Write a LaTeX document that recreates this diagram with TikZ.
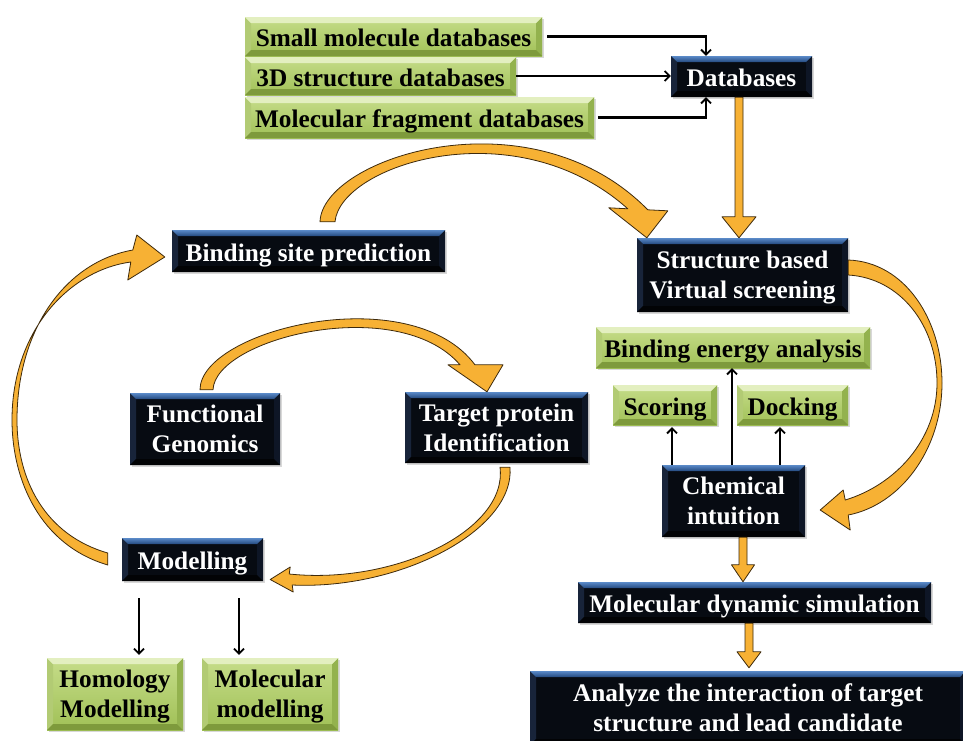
\documentclass[tikz,border=0pt]{standalone}
\usepackage{fontspec}
\setmainfont{Liberation Serif}
\usetikzlibrary{calc,arrows.meta,shadows}
\definecolor{orf}{HTML}{F7B134}
\definecolor{ord}{HTML}{3E2A0C}
\definecolor{gtop}{HTML}{C6DD8A}
\definecolor{gbot}{HTML}{A0C056}
\definecolor{gbvt}{HTML}{E3EFC0}
\definecolor{gbvl}{HTML}{B2CB74}
\definecolor{gbvr}{HTML}{93B24E}
\definecolor{gbvb}{HTML}{7E9A3C}
\definecolor{kface}{HTML}{070B12}
\definecolor{kb1}{HTML}{5A8AC8}
\definecolor{kb2}{HTML}{24497F}
\definecolor{kbl}{HTML}{18243A}
\definecolor{kbr}{HTML}{0E1626}
\definecolor{kbb}{HTML}{020305}
% single line: drop descender depth, lower a little
\newcommand\lo[1]{\raisebox{-1.5pt}[\height][0pt]{#1}}
% last line of a multi-line text: drop descender depth
\newcommand\ld[1]{\raisebox{0pt}[\height][0pt]{#1}}
\newcommand\bevelfill[4]{%
 \path (path picture bounding box.north west) coordinate (ppa)
       (path picture bounding box.north east) coordinate (ppb)
       (path picture bounding box.south east) coordinate (ppc)
       (path picture bounding box.south west) coordinate (ppd);
 \fill[#2] (ppa) -- ($(ppa)+(6,-6)$) -- ($(ppd)+(6,6)$) -- (ppd) -- cycle;
 \fill[#3] (ppb) -- ($(ppb)+(-6,-6)$) -- ($(ppc)+(-6,6)$) -- (ppc) -- cycle;
 \fill[#4] (ppd) -- ($(ppd)+(6,6)$) -- ($(ppc)+(-6,6)$) -- (ppc) -- cycle;
 \fill[#1] (ppa) -- (ppb) -- ($(ppb)+(-6,-6)$) -- ($(ppa)+(6,-6)$) -- cycle;}
\newcommand\odown[5]{%
 \filldraw[oarr] ($(#1)+(-#3/2,0)$) -- ($(#2)+(-#3/2,#5)$) -- ($(#2)+(-#4/2,#5)$) -- (#2)
   -- ($(#2)+(#4/2,#5)$) -- ($(#2)+(#3/2,#5)$) -- ($(#1)+(#3/2,0)$) -- cycle;}
\tikzset{
 boxbase/.style={inner sep=0pt, align=center, font=\fontsize{25.3}{30}\selectfont\bfseries,
   drop shadow={shadow xshift=1.5pt, shadow yshift=-1.5pt, opacity=0.3}},
 gbox/.style={boxbase, text=black, top color=gtop, bottom color=gbot,
   path picture={\bevelfill{gbvt}{gbvl}{gbvr}{gbvb}}},
 kbox/.style={boxbase, text=white, fill=kface,
   path picture={\bevelfill{top color=kb1,bottom color=kb2}{kbl}{kbr}{kbb}}},
 oarr/.style={fill=orf, draw=ord, line width=0.8pt, line join=round},
 blk/.style={draw=black, line width=2.2pt, -{Straight Barb[length=5pt,width=10pt,line width=1.8pt]}},
}
\begin{document}
\begin{tikzpicture}[x=1pt,y=1pt]
\fill[white] (0,0) rectangle (963,-740);
\useasboundingbox (0,0) rectangle (963,-740);

% green boxes
\node[gbox, minimum width=297pt, minimum height=39pt] (sm) at (393.5,-36.5) {\lo{Small molecule databases}};
\node[gbox, minimum width=271pt, minimum height=38pt] (sd) at (380.5,-76) {\lo{3D structure databases}};
\node[gbox, minimum width=349pt, minimum height=41pt] (mf) at (419.5,-117.5) {\lo{Molecular fragment databases}};
\node[gbox, minimum width=274pt, minimum height=41pt] (bea) at (733,-347.5) {\lo{Binding energy analysis}};
\node[gbox, minimum width=104pt, minimum height=40pt] (sc) at (665,-405) {\lo{Scoring}};
\node[gbox, minimum width=111pt, minimum height=40pt] (dk) at (792.5,-405) {\lo{Docking}};
\node[gbox, minimum width=136pt, minimum height=72pt] (hm) at (115,-694) {Homology\\\ld{Modelling}};
\node[gbox, minimum width=136pt, minimum height=72pt] (mm) at (270,-694) {Molecular\\\ld{modelling}};

% black boxes
\node[kbox, minimum width=141pt, minimum height=41pt] (db) at (741.5,-76.5) {\lo{Databases}};
\node[kbox, minimum width=211pt, minimum height=74pt] (sbvs) at (742.5,-275) {Structure based\\\ld{Virtual screening}};
\node[kbox, minimum width=273pt, minimum height=42pt] (bsp) at (308.5,-251) {\lo{Binding site prediction}};
\node[kbox, minimum width=143pt, minimum height=72pt] (ci) at (733.5,-501) {Chemical\\\ld{intuition}};
\node[kbox, minimum width=353pt, minimum height=41pt] (mds) at (754.5,-602.5) {\lo{Molecular dynamic simulation}};
\node[kbox, minimum width=436pt, minimum height=74pt] (an) at (748,-708) {Analyze the interaction of target\\\ld{structure and lead candidate}};
\node[kbox, minimum width=150pt, minimum height=72pt] (fg) at (205,-429) {Functional\\\ld{Genomics}};
\node[kbox, minimum width=183pt, minimum height=71pt] (tp) at (496.5,-427.5) {Target protein\\\ld{Identification}};
\node[kbox, minimum width=141pt, minimum height=43pt] (mod) at (192.5,-559.5) {\lo{Modelling}};

% black connectors
\draw[blk, shorten <=5pt] (sm.east) -| ([xshift=-35.5pt]db.north);
\draw[blk] (sd.east) -- (sd.east -| db.west);
\draw[blk, shorten <=4pt] (mf.east) -| ([xshift=-35.5pt]db.south);
\coordinate (c1) at ([xshift=-61.5pt]ci.north);
\coordinate (c2) at ([xshift=-1.5pt]ci.north);
\coordinate (c3) at ([xshift=46.5pt]ci.north);
\draw[blk, shorten >=2pt] (c1) -- (c1 |- sc.south);
\draw[blk] (c2) -- (c2 |- bea.south);
\draw[blk, shorten >=2pt] (c3) -- (c3 |- dk.south);
\coordinate (m1) at ([xshift=-53.5pt,yshift=-17pt]mod.south);
\coordinate (m2) at ([xshift=46.5pt,yshift=-17pt]mod.south);
\draw[blk, shorten >=3pt] (m1) -- (m1 |- hm.north);
\draw[blk, shorten >=3pt] (m2) -- (m2 |- mm.north);

% straight orange arrows
\coordinate (o1s) at ([xshift=-2.5pt]db.south);
\coordinate (o1e) at (o1s |- sbvs.north);
\odown{o1s}{o1e}{8}{34}{21}
\coordinate (o2s) at ([xshift=9.5pt]ci.south);
\coordinate (o2e) at (o2s |- mds.north);
\odown{o2s}{o2e}{8}{23}{17}
\coordinate (o3s) at ([xshift=-5.5pt]mds.south);
\coordinate (o3e) at ([yshift=3pt]o3s |- an.north);
\odown{o3s}{o3e}{8}{24}{16}

% curved orange arrows
% A: binding site prediction -> structure based virtual screening
\coordinate (aS) at (bsp.north);
\coordinate (aT) at ([xshift=10pt]sbvs.north west);
\filldraw[oarr] ($(aS)+(11.5,8)$) .. controls (322,-158) and (530,-90) .. ($(aT)+(1,28)$)
  -- ($(aT)+(21,27)$) -- (aT) -- ($(aT)+(-38,30)$) -- ($(aT)+(-19,29)$)
  .. controls (515,-108) and (340,-165) .. ($(aS)+(26.5,8)$) -- cycle;
% B: structure based virtual screening -> chemical intuition
\coordinate (bS) at (sbvs.east);
\coordinate (bT) at ($(ci.east)+(15,-9)$);
\filldraw[oarr] ($(bS)+(0,15)$) .. controls (905,-262) and (942,-320) .. (942,-383)
  .. controls (942,-450) and (900,-505) .. ($(bT)+(28,-5)$)
  -- ($(bT)+(30,-20)$) -- (bT) -- ($(bT)+(23,20)$) -- ($(bT)+(25,10)$)
  .. controls (895,-485) and (937,-440) .. (937,-383)
  .. controls (937,-325) and (900,-278) .. (bS) -- cycle;
% C: functional genomics -> target protein identification
\coordinate (cS) at (fg.north);
\coordinate (cT) at ($(tp.north)+(-9.5,0)$);
\filldraw[oarr] ($(cS)+(-5,3)$) .. controls (200,-330) and (410,-278) .. ($(cT)+(-12,27)$)
  -- ($(cT)+(16,27)$) -- (cT) -- ($(cT)+(-39,27)$) -- ($(cT)+(-27,27)$)
  .. controls (398,-293) and (215,-338) .. ($(cS)+(8,3)$) -- cycle;
% D: target protein identification -> modelling
\coordinate (dS) at (tp.south);
\coordinate (dT) at ($(mod.east)+(7,-20)$);
\filldraw[oarr] ($(dS)+(13.5,-4)$) .. controls (515,-530) and (400,-590) .. ($(dT)+(22,-5.5)$)
  -- ($(dT)+(23,-12.5)$) -- (dT) -- ($(dT)+(20,12.5)$) -- ($(dT)+(19,5.5)$)
  .. controls (395,-585) and (508,-530) .. ($(dS)+(3.5,-4)$) -- cycle;
% E: modelling -> binding site prediction
\coordinate (eS) at (mod.west);
\coordinate (eT) at ($(bsp.west)+(-7,-6)$);
\filldraw[oarr] ($(eS)+(-14,-5.5)$) .. controls (40,-545) and (12,-480) .. (12,-420)
  .. controls (12,-330) and (70,-270) .. ($(eT)+(-34,-5)$)
  -- ($(eT)+(-37,-23)$) -- (eT) -- ($(eT)+(-28,22)$) -- ($(eT)+(-32,7)$)
  .. controls (65,-262) and (17,-330) .. (17,-420)
  .. controls (17,-480) and (45,-535) .. ($(eS)+(-14,6.5)$) -- cycle;
\end{tikzpicture}
\end{document}
